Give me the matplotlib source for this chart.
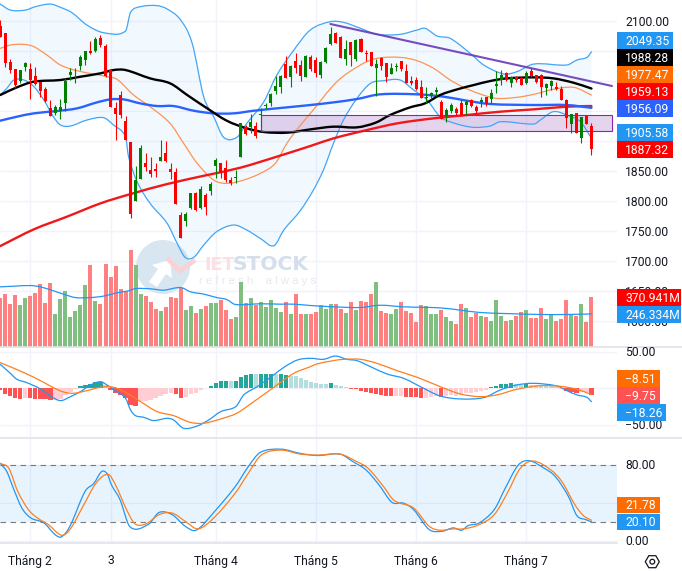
import matplotlib
matplotlib.use("Agg")
import matplotlib.pyplot as plt
from matplotlib.patches import Circle, PathPatch, Polygon, Rectangle
from matplotlib.path import Path

plt.rcParams['font.family'] = ['Roboto', 'DejaVu Sans']

W, H = 682, 571
PANE_R = 617

# ---------- daily candles ----------
opens = [2092.5,2080,2033,2020.8,2000.8,2024.7,2020.8,2009.7,1999.1,1987.5,
 1956.3,1946.9,1951.4,1964.7,2010.2,2016.9,2026.3,2035.8,2050.8,2050.8,
 2071.9,2059.1,2019.1,1955.2,1977.5,1934.1,1898.6,1801.4,1837.5,1863.6,
 1852.5,1854.1,1867.5,1880.2,1854.1,1848.6,1777.5,1767.5,1788.6,1814.7,
 1788.6,1810.8,1818,1859.7,1863.6,1855.2,1835.8,1839.1,1874.7,1924.7,
 1924.7,1925.8,1943.6,1959.1,1963.6,1984.7,1990.2,2028.6,2006.9,2034.1,
 2027.5,2008,2040.2,2035.8,2010.8,2033,2061.9,2081.4,2073.6,2036.9,
 2065.2,2036.9,2070.8,2046.9,2048.6,2021.9,2039.7,2030.2,2012.5,2024.7,
 2033.6,2017.5,2000.8,2002.5,1990.2,1971.9,1976.4,1983,1966.4,1942.5,
 1951.4,1953.6,1964.7,1960.8,1969.1,1956.9,1966.4,1973.6,1970.3,1992.5,
 2002.5,2013.6,1998,2006.9,2005.2,1996.9,2017.5,2010.2,2010.8,1988.6,
 1992.5,1990.2,1986.9,1969.1,1929.1,1946.9,1906.4,1942.5,1925.8]
closes = [2074.7,2031.4,2019,1994.7,2019,2030.2,2002.5,1995.8,1984.7,1967.5,
 1943,1958,1956.9,2000.8,2016.4,2018,2040.2,2050.8,2046.9,2070.8,
 2060.8,2009.1,1958,1945.2,1944.1,1902.5,1779.1,1835.8,1888.6,1858,
 1845.8,1851.4,1873.6,1867.5,1849.7,1795.8,1739.1,1778.6,1813.6,1785.8,
 1820.2,1791.4,1829.1,1869.1,1848,1835.8,1830.2,1841.4,1930.2,1912.5,
 1931.9,1909.1,1945.2,1960.8,1979.1,1992.5,2009.1,2005.2,2025.8,2022.5,
 2009.1,2042.5,2020.8,2014.7,2033,2056.4,2078.6,2064.7,2039.7,2053.6,
 2044.1,2069.1,2049.7,2045.2,2026.3,2029.1,2026.3,2008,2021.9,2026.3,
 2020.8,1998,1996.9,1987.5,1971.9,1974.7,1980.2,1985.8,1937.5,1952.5,
 1960.8,1946.9,1944.1,1966.4,1959.7,1951.4,1969.1,1962.5,1980.2,1995.8,
 2010.8,2002.5,2008,2002.5,1994.1,2014.7,2009.1,1999.7,1990.2,1995.2,
 2000.2,1988,1969.1,1938.6,1945.2,1914.7,1940.2,1929.1,1887.32]
highs = [2102.5,2080.2,2036.9,2020.8,2019.1,2033,2031.4,2024.7,1999.1,1991.4,
 1969.1,1960.8,1970.3,2005.2,2021.9,2021.9,2044,2050.8,2067.5,2073.6,
 2077.5,2061.9,2019.1,1966.4,1984.1,1942.5,1898.6,1859.1,1894.1,1880.2,
 1873.6,1863.6,1902.5,1900.8,1863.6,1855.2,1783,1783,1814.7,1816.4,
 1825.8,1814.7,1833,1871.9,1863.6,1869.1,1841.4,1852.5,1930.2,1927.5,
 1945.8,1933,1955.2,1963.6,1980.2,2009.1,2010.8,2042.5,2027.5,2046.9,
 2035.8,2044.1,2044.1,2040.2,2034.7,2058,2091.4,2083,2075.8,2069,
 2066.4,2070.2,2071.9,2052.5,2049.7,2036.9,2040.2,2031.4,2030.2,2030.2,
 2034.1,2028.6,2009.1,2006.9,2002.5,1990.2,1983,1990.2,1969.1,1956.3,
 1963.6,1956.9,1969.1,1969.1,1970.8,1960.8,1974.7,1974.7,1986.9,2018,
 2019.1,2016.4,2009.1,2009.1,2008,2017.5,2023,2010.8,2011.9,1996.9,
 2002.5,1998.6,1992.5,1970.8,1945.8,1946.9,1941.4,1944.1,1930.2]
lows = [2074.7,2024.7,2014.7,1988.6,1996.9,2018,1970.8,1994.1,1974.7,1966.4,
 1942.5,1944.1,1936.9,1951.4,2002.5,1998,2019.1,2028,2045.8,2049.7,
 2058,2008,1958,1902.5,1938.6,1902.5,1771.9,1801.4,1837.5,1851.4,
 1840.2,1841.4,1867.5,1866.4,1837.5,1795.2,1739.1,1759.7,1786.9,1784.7,
 1786.9,1777.5,1810.8,1838.6,1838.6,1833,1827.5,1830.2,1874.7,1910.8,
 1913.6,1906.4,1921.9,1953.6,1959.1,1979.1,1981.4,2005.2,1991.4,2014.7,
 2001.4,2006.9,2018,2008,2006.4,2031.4,2060.8,2063.6,2038.6,2027.5,
 2025.8,2034.7,2048.6,2034.7,2026,1976.4,2019.1,1999.7,2012.5,2018,
 2018,1996.9,1994.1,1985.8,1971.9,1963.6,1970.3,1975.8,1937.5,1933,
 1948,1944.1,1943,1944.1,1958,1945.8,1958,1959.1,1963.6,1981.4,
 1994.1,2000.8,1990.2,1999.7,1994.1,1995.8,2006.9,1996.9,1974.7,1977.5,
 1985.8,1985.8,1969.1,1921.9,1914.7,1913.6,1898,1929.1,1877.5]

# ---------- volume, millions of shares ----------
volumes = [370,396,320,388,312,370,381,406,471,328,479,244,358,418,222,267,312,464,615,343,
 320,622,524,607,433,418,728,615,396,381,335,282,267,297,373,365,441,275,305,252,
 282,305,328,328,350,275,207,222,486,328,365,312,335,297,350,290,260,335,244,396,
 249,244,244,262,312,282,320,320,282,252,335,275,343,335,396,486,267,252,244,282,
 335,267,252,184,312,305,244,244,275,222,192,169,320,290,222,252,229,222,192,350,
 229,192,199,229,260,275,214,214,290,207,244,192,207,350,244,229,320,184,370.941]
vol_ma_t = [0,2.7,6,8,10.6,12.6,15,18,20.6,23.3,25.6,27,30,32.6,36,38,40.6,43.2,45.2,46.9,51.9,55.9,
 58.6,61.9,66.5,71.9,75.8,80.5,87.8,91.8,95.8,101.1,107.8,113.1,118]
vol_ma = [451,456,461,451,421,396,370,370,381,406,421,438,436,426,446,413,396,370,355,318,323,320,
 320,310,300,295,312,300,292,275,257,249,242,242,246.334]

# ---------- Bollinger bands and moving averages ----------
bb_up_t = [0,2,5,7,10,12,14.3,17.3,20.6,25,26,28,31.3,33.3,36,38.3,40.6,42.6,44.6,47.2,49.2,52.6,55.2,58.6,
 61.9,65.9,68.5,71.9,75.2,79.8,83.2,84.8,87.2,89.8,93.8,96.5,100.5,103.1,106.5,113.1,115.1,117.1,118]
bb_up = [2129,2119,2119,2124.7,2129,2123.6,2114.7,2094,2081.4,2084,2115.2,2124.7,2126.4,2120.8,2102.5,2063.6,
 1974.7,1941.3,1906.9,1906.9,1930.2,1966.3,2010.8,2052.5,2086,2099.7,2098.6,2088.6,2078.6,2078.6,2085.8,2088.6,
 2075.8,2071.9,2046.9,2027.5,2012.5,2016.3,2029.1,2027.5,2035.8,2040.2,2049.35]
bb_lo_t = [0,1.3,2.7,4.7,6.7,8.7,10.6,12,14,17.3,20.6,22.6,25,25.6,27.3,29.9,33.3,35.3,36.9,38.6,40.6,43.2,46.6,
 49.2,51.9,54.6,56.6,59.9,62.5,64.5,66.5,68.5,71.2,73.9,76.5,79.8,82.5,85.2,87.8,91.2,94.5,97.8,99.8,106.5,107.8,
 110.4,113.1,115.8,118]
bb_lo = [1977.5,1988.6,2002.5,2002.5,1991.4,1969.1,1941.3,1927.5,1925.8,1935.8,1939.7,1927.5,1908,1874.7,1833,
 1796.9,1763.6,1730.2,1706.9,1706.9,1727.4,1749.7,1760.8,1752.5,1738.5,1726.3,1752.5,1785,1819.1,1852.5,1896.9,
 1935.8,1971.9,1996.9,2001.3,2002.5,1985.8,1969.1,1941.3,1929.1,1923.6,1925.8,1933,1929.1,1935.8,1949.7,1944.1,
 1933,1905.58]
ma20_t = [0,2,4.7,6.7,9.3,12,15.3,18.6,21.3,23.3,26.6,29.9,33.9,36.6,39.3,42.6,45.2,48.6,51.9,54.9,57.2,59.9,61.9,
 67.2,71.9,75.2,79.8,83.2,86.5,89.8,92.5,95.8,99.1,103.1,106.5,110.4,114.5,118]
ma20 = [2055.2,2060.8,2061.9,2058,2044.1,2027.5,2018,2012.5,2008,2003.6,1977.5,1958,1930.2,1896.9,1863.6,1835.8,
 1830.2,1835.8,1846.9,1863.6,1896.9,1927,1946.9,1999.7,2027.5,2038.6,2040.2,2034.7,2021.9,2002.5,1990.2,1979.1,
 1971.9,1973.6,1978.6,1986.9,1990.2,1977.47]
ma50_t = [0,3.3,6.7,12,16,20,22.6,25,29.9,33.9,37.3,41.3,45.2,49.2,52.6,57.2,61.9,66.5,71.2,74.9,77.8,81.8,84.8,
 87.8,91.2,94.5,97.8,101.1,106.5,110.4,114.4,118]
ma50 = [1977.5,1990.2,1999.7,2002.5,2008,2013.6,2019.1,2019.1,2005.2,1996.9,1977.5,1955.2,1934.7,1921.9,1915.8,
 1914.7,1920.2,1924.7,1923.6,1931.3,1944.1,1956.9,1963.6,1977.5,1986.9,1994.1,2000.8,2005.2,2006.9,2005.2,1998,1988.28]
ma100_t = [0,3.3,6.7,11.3,15.3,19.3,22,24.6,27.9,31.3,34.6,38.6,42.6,46.6,50.6,57.2,61.9,66.5,71.2,75.8,83.2,88.5,
 93.1,97.8,106.5,113.1,118]
ma100 = [1934.7,1941.3,1946.9,1950.8,1955.2,1965.2,1970.2,1970.2,1963.6,1959.1,1959.1,1951.3,1946.9,1946.9,1951.3,
 1956.9,1960.8,1965.2,1970.8,1978.6,1978.6,1974.7,1968,1962.5,1960.8,1960.8,1956.09]
ma200_t = [0,6.7,13.3,20,26,33.3,41.3,47.9,55.2,61.9,66.5,73.2,79.2,86.5,93.1,99.8,106.5,113.1,118]
ma200 = [1725.8,1753.6,1774.7,1796.9,1812.4,1829.1,1844.1,1856.3,1874.7,1892.5,1905.2,1919.1,1930.2,1938.6,1944.1,
 1949.7,1953.6,1958,1959.13]

# Drawn trendline and support zone
trend_t = [65.9, 122.1]
trend_p = [2095.8, 1992.5]
zone_t = [52, 122.1]
zone_p = [1918, 1943.6]

# ---------- MACD ----------
macd_hist = [-3,-7.5,-10,-13.5,-14,-13.5,-13,-14,-14,-15,-16,-16,-15,-9,-4.5,-1.5,3,4.5,6,8.6,8.6,4.5,
 -2,-6,-8.6,-13.6,-22.7,-23.6,-18,-16.8,-16,-13.6,-10.5,-7.7,-6.8,-7.7,-13.6,-11.4,-7.7,-5.9,-2.3,
 1,3.2,7.7,10,10,10,10,16,18,19.5,19.5,19.5,19.5,19.5,19.5,19.5,18,16.8,16.8,13.6,11.4,9,7.7,6,6,6.8,
 4.5,3.2,1.4,-1.4,-1.4,-3.2,-4.5,-6,-7.7,-9,-10,-10,-10,-10.5,-11.4,-11.4,-12,-12.7,-12.7,-11.4,-10.5,
 -11.4,-10.5,-9,-10.5,-9,-6.8,-6,-4.5,-3.6,-2.3,2.3,3.2,5.5,6,6.8,6,5,5.5,4.5,4.5,4,3,3,2.3,-1.4,-3.2,
 -4.5,-6.8,-4.5,-4.5,-9.75]
hist_codes = ("RRRRRPRRRRRPPPPP" "TTTTTL" "RRRRRR" "PPPPPPP" "RR" "PPPP" "TTTTT" "L" "TTTT" "L" "TTT" "L" "TT"
              "LLLLLLLL" "T" "LLL" "RRRRRRRRR" "PP" "RRRR" "PPP" "R" "PPPPPPPPP" "TTTTT" "LL" "T" "LLLLLL"
              "P" "RRR" "PP" "R")
macd_t = [0,2,3.3,5.3,8,10,12,14,16,18,20,21.3,23,25,26,27,28.6,30.6,33.3,34.6,36.6,39.3,41.6,44,47,48.6,51.3,54.3,
 56.6,59.3,61.9,64.5,66.9,69.2,71.2,73.9,77.2,80.5,84.5,87.8,91.8,96.5,99.8,103.1,106.5,111.1,113.1,115.1,117.1,118]
macd_line = [32.7,20.5,12.3,7.7,-0.9,-10.5,-16.8,-11.4,-4.5,4.5,9,4.5,-3.2,-13.6,-29.5,-37.3,-39.5,-44,-40.9,-43.2,
 -54.5,-51.4,-43.2,-31.8,-25,-9,2.3,16.8,28.6,38.6,40.9,39.5,44,39.5,37.7,29.5,19.5,13.6,0,-10.5,-14.5,-12.7,-2.3,
 4.5,6.8,3.2,-3.2,-9,-12.3,-18.26]
signal_t = [0,2.7,5.3,8,10.6,12.6,14.6,17.3,20,22.6,25.3,28,31.3,34.6,37.9,40.6,44,47.2,50.6,54.6,58.6,61.9,63.2,66.5,
 68.5,71.9,75.2,79.2,83.2,87.8,91.8,95.8,99.1,103.1,107.8,111.8,115.1,118]
signal_line = [35,27.3,19.5,10.5,0.9,-5,-6.8,-3.2,1.4,1.4,-6.8,-18.2,-31.8,-37.3,-46.4,-47.7,-41.8,-34,-18.2,1.4,20.5,
 29.5,33.2,37.7,39.5,39.5,34,24,15,2.3,-7.7,-11.4,-9,-1.4,3.6,2.7,-1.4,-8.51]

# ---------- stochastic ----------
k_t = [0,1.3,2.6,4.3,6.1,8.7,10.9,12.2,13.9,16.9,18.7,20.2,21.3,22.2,23.9,25.9,29.5,31.7,34.3,36.9,39.1,42.6,46.9,49.5,
 51.9,56,59.9,63.4,67.8,70.4,73,75.6,78.2,80.4,82.5,85.6,88.2,90.4,92.1,93.4,95.6,98.6,100.8,103.4,105.6,108.6,110.8,
 113.4,115.1,116.9,118]
k_line = [81.7,73,55.6,34.7,24.2,19,6.8,4.3,15.5,52,60.8,73,71,59,43.4,14.8,17.2,30,27.7,15.5,11.3,30,57.3,78.3,93.3,
 96.7,92.2,90,91.5,83.5,74.8,59,40.6,39.9,33,12,10.2,13.7,11.3,16.2,19,33,55.6,80,84.5,76.5,67.8,46.9,26.6,22.4,20.10]
d_t = [0,1.7,3.5,5.6,7.4,9.6,12.2,13.9,16.5,19.1,21.5,23,25.2,26.9,29.1,31.7,34.3,36.9,39.5,42.6,46.9,49.5,52.1,56,59.9,
 63.4,67.8,70.8,73.4,76.5,78.6,82.5,85.6,87.7,90.4,92.5,95.6,98.6,101.2,103.8,106.4,109.9,112.1,114.7,116.4,118]
d_line = [81.7,76.5,52,33,24.2,17.2,6,12,36.4,60.8,70.2,59,33,18,18,27.7,29.4,20.7,12.7,24.2,50.4,71.3,90.5,95.7,91.5,
 90.5,91.5,84.5,76.5,57.3,42.7,34.7,15.5,11.3,12.7,12.7,17.2,27.7,50.4,76.5,84.2,74.8,62.6,38.1,26.6,21.78]

# ---------- axis furniture ----------
month_pos = [6, 22, 43, 63, 83, 105]
month_labels = ["Tháng 2", "3", "Tháng 4", "Tháng 5", "Tháng 6", "Tháng 7"]
price_ticks = [2100, 2050, 2000, 1950, 1900, 1850, 1800, 1750, 1700, 1650, 1600]
price_labels = [2100, 1850, 1800, 1750, 1700, 1650, 1600]
macd_ticks = [50, 0, -50]
stoch_ticks = [80, 40, 0]

C_GRID = "#f0f3fa"
C_SEP = "#e0e3eb"
C_TEXT = "#131722"
C_UP, C_DOWN = "#008000", "#ff0000"
C_BB = "#42a5f5"
C_BLUE = "#2196f3"
HIST_COLORS = {"T": "#26a69a", "L": "#b2dfdb", "R": "#ff5252", "P": "#ffcdd2"}

XLIM = (-0.06, 123.1)
MAIN_BOX = (0, 346.5)
MACD_BOX = (346.5, 437.5)
STOCH_BOX = (437.5, 543)
# Scale of each pane: value at the pane's top and bottom edge
MAIN_Y = (2135.83, 1558.33)
VOL_Y = (0, 2620)
MACD_Y = (57, -67.1)
STOCH_Y = (109, -2.2)
FONT = 8.7
TEXT_NUDGE = 0.8

fig = plt.figure(figsize=(W / 100, H / 100), dpi=100, facecolor="white")


def pane(box, ylim, z, x_right=PANE_R):
    top_px, bottom_px = box
    ax = fig.add_axes([0, 1 - bottom_px / H, x_right / W, (bottom_px - top_px) / H], zorder=z)
    ax.set_xlim(*XLIM)
    ax.set_ylim(ylim[1], ylim[0])
    ax.axis("off")
    return ax


# Pixel-space layer used for the logo, the axis text and the value tags
def pixel_layer(z):
    ax = fig.add_axes([0, 0, 1, 1], zorder=z)
    ax.set_xlim(0, W)
    ax.set_ylim(H, 0)
    ax.axis("off")
    return ax


# Indicator lines run through their readings as a smooth Bezier chain
def curve(ax, t, v, color, lw, z=2):
    n = len(t)
    slopes = []
    for i in range(n):
        a, b = max(i - 1, 0), min(i + 1, n - 1)
        slopes.append((v[b] - v[a]) / (t[b] - t[a]))
    verts = [(t[0], v[0])]
    codes = [Path.MOVETO]
    for i in range(n - 1):
        dt = (t[i + 1] - t[i]) / 3
        verts += [(t[i] + dt, v[i] + slopes[i] * dt),
                  (t[i + 1] - dt, v[i + 1] - slopes[i + 1] * dt),
                  (t[i + 1], v[i + 1])]
        codes += [Path.CURVE4] * 3
    ax.add_patch(PathPatch(Path(verts, codes), fc="none", ec=color, lw=lw, zorder=z, capstyle="round"))


grid_main = pane(MAIN_BOX, MAIN_Y, 0)
grid_macd = pane(MACD_BOX, MACD_Y, 0)
grid_stoch = pane(STOCH_BOX, STOCH_Y, 0)
for ax, ticks in ((grid_main, price_ticks), (grid_macd, macd_ticks), (grid_stoch, stoch_ticks)):
    ax.hlines(ticks, *XLIM, color=C_GRID, lw=1)
    ax.vlines(month_pos, *ax.get_ylim(), color=C_GRID, lw=1)

# Watermark
logo = pixel_layer(1)
logo.add_patch(Circle((163, 267), 27, fc="#d8e6f1", ec="none"))
logo.add_patch(Polygon([(149, 282), (158, 269), (152, 265), (170, 260), (172, 278), (166, 274), (157, 287)],
                       fc="white", ec="none"))
logo.plot([167, 180, 195], [258, 271, 260], color="#fad2d5", lw=3.5, solid_capstyle="butt")
logo.text(204, 265, "IET", color="#fbdfe1", fontsize=12.5, fontweight="bold", family="DejaVu Sans", va="center")
logo.text(233, 265, "STOCK", color="#d3dfea", fontsize=14.5, fontweight="bold", family="DejaVu Sans", va="center")
logo.text(258, 281, "r e f r e s h    a l w a y s", color="#e6e9ee", fontsize=8.2, va="center", ha="center",
          family="Liberation Sans")

# Price pane
ax = pane(MAIN_BOX, MAIN_Y, 2)
ax.fill(bb_up_t + bb_lo_t[::-1], bb_up + bb_lo[::-1], color=C_BLUE, alpha=0.055, lw=0)
curve(ax, bb_up_t, bb_up, C_BB, 0.9)
curve(ax, bb_lo_t, bb_lo, C_BB, 0.9)
curve(ax, ma20_t, ma20, "#ff9350", 0.9)
curve(ax, ma200_t, ma200, "#f01818", 1.7)
curve(ax, ma100_t, ma100, "#2962ff", 1.7)
curve(ax, ma50_t, ma50, "black", 1.7)
ax.add_patch(Rectangle((zone_t[0], zone_p[0]), zone_t[1] - zone_t[0], zone_p[1] - zone_p[0],
                       ec="#8e24aa", lw=0.8, fill=False, zorder=3))
ax.add_patch(Rectangle((zone_t[0], zone_p[0]), zone_t[1] - zone_t[0], zone_p[1] - zone_p[0],
                       fc="#b785cf", ec="none", alpha=0.35, zorder=1.5))
ax.plot(trend_t, trend_p, color="#673ab7", lw=1.5, alpha=0.9, solid_capstyle="round")
for i, (o, h, l, c) in enumerate(zip(opens, highs, lows, closes)):
    col = C_UP if c >= o else C_DOWN
    ax.vlines(i, l, h, color=col, lw=0.8, zorder=4)
    ax.bar(i, abs(c - o), bottom=min(o, c), width=0.6, color=col, lw=0, zorder=4)

# Volume overlay
vax = pane(MAIN_BOX, VOL_Y[::-1], 3)
vol_colors = ["#80bf80" if c >= o else "#ff8080" for o, c in zip(opens, closes)]
vax.bar(range(len(volumes)), volumes, width=0.8, color=vol_colors, lw=0)
curve(vax, vol_ma_t, vol_ma, C_BLUE, 0.9)

# MACD pane
mx = pane(MACD_BOX, MACD_Y, 2)
mx.bar(range(len(macd_hist)), macd_hist, width=0.85, lw=0, color=[HIST_COLORS[k] for k in hist_codes])
curve(mx, macd_t, macd_line, C_BLUE, 0.9)
curve(mx, signal_t, signal_line, "#ff7f1e", 0.9)

# Stochastic pane
sx = pane(STOCH_BOX, STOCH_Y, 2)
sx.axhspan(20, 80, color=C_BLUE, alpha=0.1, lw=0)
sx.hlines([20, 80], *XLIM, color="#787b86", lw=0.8, linestyles=(0, (5, 4)))
curve(sx, k_t, k_line, C_BLUE, 0.9)
curve(sx, d_t, d_line, "#ff7f1e", 0.9)

# Text, separators and value tags
top = pixel_layer(10)
for y, x1 in ((346.5, W), (437.5, W), (543.0, PANE_R)):
    top.plot([0, x1], [y, y], color=C_SEP, lw=1.2)


def value_to_px(v, box, ylim):
    return box[0] + (ylim[0] - v) / (ylim[0] - ylim[1]) * (box[1] - box[0])


def axis_labels(ticks, box, ylim):
    for v in ticks:
        label = f"{v:.2f}".replace("-", "\u2212")
        top.text(625, value_to_px(v, box, ylim) + TEXT_NUDGE, label, fontsize=FONT, color=C_TEXT,
                 va="center", ha="left", zorder=3)


axis_labels(price_labels, MAIN_BOX, MAIN_Y)
axis_labels([50, -50], MACD_BOX, MACD_Y)
axis_labels([80, 0], STOCH_BOX, STOCH_Y)

for p, lab in zip(month_pos, month_labels):
    top.text(0.3 + 5.01 * p, 561, lab, fontsize=FONT, color=C_TEXT, ha="center", va="center")

tags = [
    ("2049.35", C_BLUE, 32.3, 672.5), ("1988.28", "black", 49.3, 672.5), ("1977.47", "#ff6d00", 66.3, 672.5),
    ("1959.13", "#ff0000", 83.3, 672.5), ("1956.09", "#2962ff", 100.2, 672.5),
    ("1905.58", C_BLUE, 124, 672.5), ("1887.32", "#ff0000", 141, 672.5),
    ("370.941M", "#ff0000", 289.3, 681), ("246.334M", C_BLUE, 306, 681),
    ("\u22128.51", "#ff6d00", 370, 660), ("\u22129.75", "#ff5252", 387, 660), ("\u221218.26", C_BLUE, 404, 666),
    ("21.78", "#ff6d00", 496.7, 660), ("20.10", C_BLUE, 513.7, 660),
]
for label, col, y0, x1 in tags:
    top.add_patch(Rectangle((617, y0), x1 - 617, 16.6, fc=col, ec="none", zorder=5))
    top.text(625, y0 + 8.3 + TEXT_NUDGE, label, fontsize=FONT, color="white", va="center", ha="left", zorder=6)

# Settings button in the corner
top.add_patch(Polygon([(645.3, 561.7), (648.8, 555.7), (655.8, 555.7), (659.3, 561.7), (655.8, 567.7), (648.8, 567.7)],
                      fc="none", ec=C_TEXT, lw=0.9))
top.add_patch(Circle((652.3, 561.7), 2.4, fc="none", ec=C_TEXT, lw=0.9))

fig.savefig("out.png", dpi=100, facecolor="white")
